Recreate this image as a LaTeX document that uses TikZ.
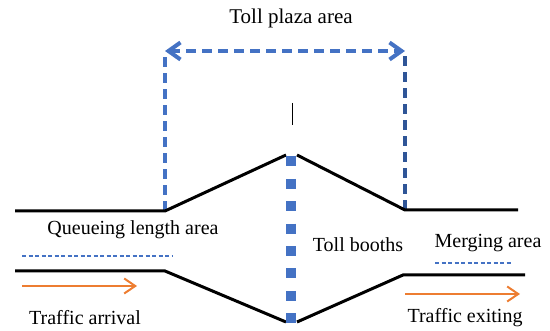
\documentclass[tikz,border=0pt]{standalone}
\usepackage{fontspec}
\setmainfont{Liberation Serif}
\usetikzlibrary{arrows.meta}
\definecolor{plazablue}{HTML}{4472C4}
\definecolor{plazadark}{HTML}{2F5597}
\definecolor{flow}{HTML}{ED7D31}

\begin{document}
\begin{tikzpicture}[x=1pt, y=-1pt,
    road/.style={line width=3pt},
    bound/.style={plazablue, line width=4pt, dash pattern=on 10pt off 6pt},
    zone/.style={plazablue, line width=1.1pt, dash pattern=on 4pt off 2.5pt},
    flowarrow/.style={flow, line width=2pt, -{Straight Barb[length=11pt,width=15pt]}},
    lbl/.style={font=\fontsize{20}{22}\selectfont, inner sep=0pt}]
    \useasboundingbox (0,0) rectangle (550,331);

    % plaza limits
    \coordinate (plazaL) at (165,51);
    \coordinate (plazaR) at (405,51);
    \coordinate (entryL) at (165,211);
    \coordinate (entryR) at (405,210);
    \node[lbl, font=\fontsize{21}{23}\selectfont] (plaza) at (291,18) {Toll plaza area};
    \draw[bound] (entryL) -- (plazaL);
    \draw[bound, plazadark] (entryR) -- (plazaR);
    \draw[bound, {Straight Barb[length=12pt,width=17pt]}-{Straight Barb[length=12pt,width=17pt]}] (plazaL) -- (plazaR);
    \draw[line width=1pt] (292,103) -- (292,125);

    % road edges
    \draw[road] (15,211) -- (entryL) -- (286,155);
    \draw[road] (297,155) -- (entryR) -- (518,210);
    \draw[road] (15,271) -- (165,271) -- (286,322);
    \draw[road] (297,322) -- (403,275) -- (525,275);

    % booths
    \draw[plazablue, line width=10pt, dash pattern=on 10pt off 12.4pt] (291,156.5) -- (291,326);

    % labels
    \node[lbl] (queue) at (133,230) {Queueing length area};
    \node[lbl] (booths) at (358,245) {Toll booths};
    \node[lbl] (merge) at (488,243) {Merging area};
    \node[lbl] (arrival) at (85,318) {Traffic arrival};
    \node[lbl] (exiting) at (465,318) {Traffic exiting};

    \draw[zone] (22,256) -- (172,256);
    \draw[zone] (435,263) -- (512,263);

    % flows
    \coordinate (inA) at (22,286);
    \coordinate (inB) at (137,286);
    \coordinate (outA) at (405,294);
    \coordinate (outB) at (520,294);
    \draw[flowarrow] (inA) -- (inB);
    \draw[flowarrow] (outA) -- (outB);
\end{tikzpicture}
\end{document}
